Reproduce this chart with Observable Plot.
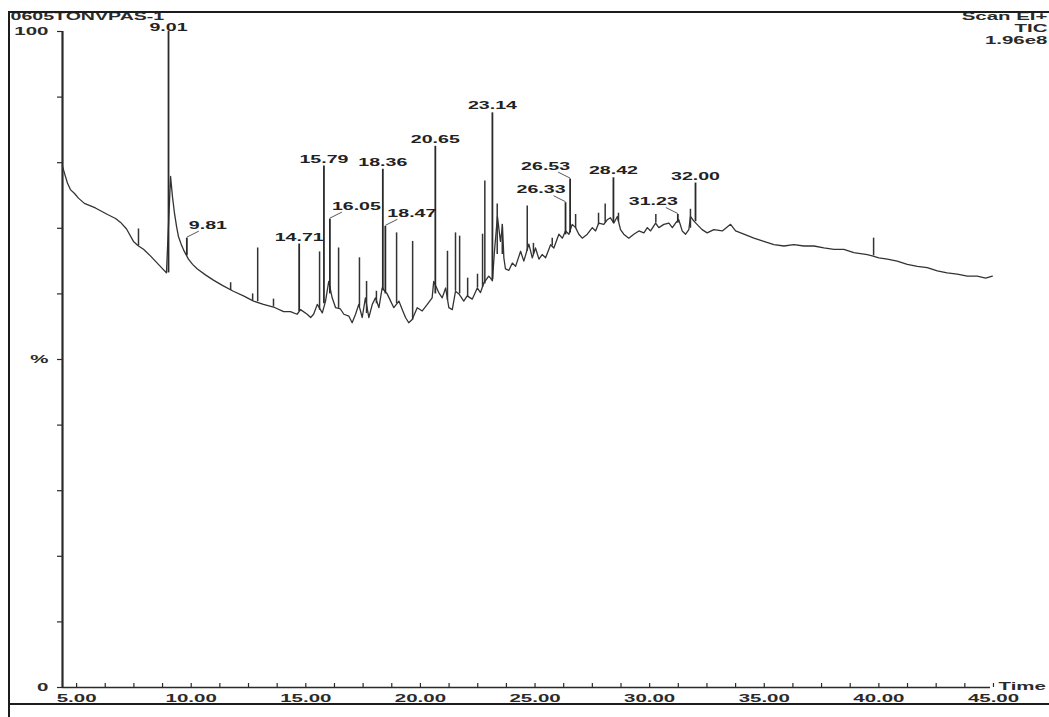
<!DOCTYPE html>
<html>
<head>
<meta charset="utf-8">
<script src="https://cdn.jsdelivr.net/npm/d3@7"></script>
<script src="https://cdn.jsdelivr.net/npm/@observablehq/plot@0.6"></script>
<style>
  html, body { margin: 0; padding: 0; background: #fff; }
  #chart svg { display: block; }
</style>
</head>
<body>
<div id="chart"></div>
<script>
// Total ion chromatogram: retention time (min) against relative abundance (%).

// Run header
const sampleName = "0605TONVPAS-1";
const scanInfo = ["Scan EI+", "TIC", "1.96e8"];

// Baseline trace of the chromatogram (time in minutes, abundance in %)
const baseTime = [4.38, 4.47, 4.60, 4.73, 4.91, 5.08, 5.34, 5.82, 6.35, 6.70, 6.92, 7.18, 7.48, 7.70, 7.92, 8.22, 8.57, 8.92,
  9.10, 9.18, 9.27, 9.36, 9.44, 9.58, 9.71, 9.88, 10.06, 10.27, 10.62, 10.97, 11.36, 11.84, 12.28, 12.72, 13.15, 13.59,
  14.03, 14.33, 14.62, 14.77, 15.06, 15.21, 15.34, 15.50, 15.72, 15.86, 16.00, 16.15, 16.30, 16.51, 16.66, 16.88, 17.02,
  17.17, 17.31, 17.46, 17.60, 17.75, 17.90, 18.04, 18.19, 18.33, 18.55, 18.70, 18.84, 19.06, 19.21, 19.35, 19.49, 19.64,
  19.86, 20.08, 20.30, 20.51, 20.58, 20.80, 20.95, 21.10, 21.24, 21.39, 21.53, 21.68, 21.89, 22.04, 22.26, 22.48, 22.62,
  22.77, 22.98, 23.06, 23.14, 23.23, 23.36, 23.49, 23.58, 23.64, 23.71, 23.86, 24.01, 24.15, 24.37, 24.51, 24.73, 24.88,
  25.02, 25.17, 25.31, 25.46, 25.68, 25.82, 26.04, 26.19, 26.33, 26.48, 26.62, 26.77, 26.91, 27.06, 27.28, 27.50, 27.64,
  27.78, 28.00, 28.15, 28.29, 28.44, 28.59, 28.73, 28.87, 29.09, 29.31, 29.53, 29.75, 29.90, 30.04, 30.26, 30.40, 30.62,
  30.84, 30.99, 31.13, 31.27, 31.42, 31.57, 31.71, 31.78, 31.93, 32.15, 32.29, 32.51, 32.80, 33.17, 33.53, 33.75, 34.11,
  34.55, 34.98, 35.42, 35.86, 36.29, 36.73, 37.17, 37.60, 38.04, 38.47, 38.91, 39.49, 39.71, 40.00, 40.37, 40.80, 41.24,
  41.68, 42.11, 42.55, 42.98, 43.42, 43.86, 44.29, 44.66, 44.95];
const baseAbund = [79.5, 78.4, 76.9, 75.9, 75.3, 74.6, 73.8, 73.1, 72.1, 71.5, 70.9, 69.9, 68.0, 67.3, 66.8, 65.8, 64.5, 63.2,
  77.9, 74.9, 72.3, 70.3, 68.8, 67.4, 66.4, 65.3, 64.5, 63.8, 62.9, 62.1, 61.3, 60.4, 59.7, 58.9, 58.4, 58.0,
  57.3, 57.3, 56.9, 57.6, 56.9, 56.4, 56.9, 58.4, 57.1, 58.9, 61.9, 59.4, 57.9, 57.7, 56.9, 56.6, 55.6,
  56.9, 58.4, 56.4, 59.4, 56.4, 58.4, 59.4, 57.9, 60.9, 60.0, 58.9, 57.9, 58.9, 57.6, 56.4, 55.6, 56.1,
  57.9, 57.4, 58.4, 59.4, 61.9, 60.2, 59.4, 60.9, 57.9, 57.6, 60.4, 60.0, 58.9, 59.7, 59.2, 60.9, 60.2,
  61.7, 62.7, 62.4, 62.0, 66.5, 71.8, 68.0, 70.3, 65.5, 63.8, 63.6, 64.7, 64.2, 66.5, 65.0, 67.6, 65.5,
  67.0, 65.3, 66.0, 65.5, 67.5, 67.0, 69.1, 68.5, 69.6, 69.1, 70.6, 70.1, 69.1, 68.5, 69.1, 70.1, 69.6,
  70.8, 70.6, 71.3, 71.6, 70.8, 71.8, 69.8, 69.1, 68.5, 69.1, 69.6, 69.3, 70.1, 69.6, 70.8, 70.1, 70.6,
  70.8, 70.1, 70.8, 71.3, 69.6, 69.1, 69.8, 71.8, 71.1, 70.3, 69.8, 69.3, 69.8, 69.6, 70.6, 69.6, 69.1,
  68.5, 68.0, 67.5, 67.3, 67.5, 67.3, 67.3, 67.0, 66.8, 66.8, 66.3, 66.0, 65.8, 65.5, 65.3, 65.0, 64.5,
  64.2, 64.0, 63.5, 63.2, 63.0, 62.7, 62.7, 62.4, 62.7];

// Unlabelled narrow peaks: apex time, foot and apex abundance
const spikeTime = [7.70, 11.72, 12.68, 12.90, 13.59, 15.60, 16.43, 17.34, 17.65, 18.08, 18.96, 19.66, 21.18, 21.53, 21.71,
  22.06, 22.49, 22.71, 22.81, 23.35, 23.57, 24.66, 24.93, 25.75, 26.77, 27.77, 28.06, 28.64, 30.27, 31.78, 39.77];
const spikeBase = [67.3, 60.5, 59.0, 58.8, 58.0, 57.5, 57.8, 58.0, 57.0, 58.5, 58.5, 56.0, 59.0, 60.4, 60.0,
  59.5, 60.9, 61.0, 61.5, 66.0, 66.0, 66.5, 66.0, 67.3, 70.0, 70.5, 70.8, 71.0, 70.8, 70.0, 65.8];
const spikeTop = [69.9, 61.7, 60.0, 67.0, 59.2, 66.4, 67.0, 65.5, 61.9, 60.4, 69.3, 68.0, 66.5, 69.3, 68.8,
  62.4, 63.0, 69.1, 77.2, 73.7, 70.6, 73.4, 67.7, 68.5, 72.1, 72.3, 73.7, 72.3, 72.1, 72.9, 68.5];

// Labelled peaks (retention time labels) with foot and apex abundance
const peakLabels = ["9.01", "9.81", "14.71", "15.79", "16.05", "18.36", "18.47", "20.65", "23.14",
  "26.33", "26.53", "28.42", "31.23", "32.00"];
const peakBase = [63.2, 65.8, 57.3, 58.5, 60.0, 60.5, 60.0, 60.0, 62.2, 69.0, 69.3, 70.8, 70.8, 71.0];
const peakTop = [100, 68.5, 67.6, 79.5, 71.4, 79.0, 70.3, 82.5, 87.6, 73.9, 77.5, 77.7, 72.1, 76.9];

// Label placement: beside the peak with a short leader, or sitting on the apex
const calloutSide = {"9.81": "right", "16.05": "right", "18.47": "right",
  "26.33": "left", "26.53": "left", "31.23": "left", "9.01": "apex"};

// Axes
const xTicks = [5, 10, 15, 20, 25, 30, 35, 40, 45];
const xMinorTicks = [6.25, 7.5, 8.75, 11.25, 12.5, 13.75, 16.25, 17.5, 18.75, 21.25, 22.5, 23.75,
  26.25, 27.5, 28.75, 31.25, 32.5, 33.75, 36.25, 37.5, 38.75, 41.25, 42.5, 43.75];
const yTicks = [0, 10, 20, 30, 40, 50, 60, 70, 80, 90, 100];
const yTickLabels = {0: "0", 50: "%", 100: "100"};
const xAxisTitle = "Time";

// ---- layout ----
const W = 1049, H = 717;
const margin = {top: 31, right: 59, bottom: 30, left: 62};
const xDomain = [4.385, 44.87];
const ink = "#2a2a2a";
const textStretch = 1.78; // printout fonts are wide

const kx = (W - margin.left - margin.right) / (xDomain[1] - xDomain[0]); // px per minute
const ky = (H - margin.top - margin.bottom) / 100;                         // px per %

const baseline = baseTime.map((t, i) => ({time: t, abundance: baseAbund[i]}));
const spikes = spikeTime.map((t, i) => ({time: t, base: spikeBase[i], top: spikeTop[i]}));
const peaks = peakLabels.map((label, i) => ({
  label, time: +label, base: peakBase[i], top: peakTop[i], side: calloutSide[label] || "center"
}));
const leaders = peaks.filter(d => d.side === "left" || d.side === "right").map(d => {
  const s = d.side === "right" ? 1 : -1;
  return {x1: d.time, y1: d.top + 1 / ky, x2: d.time + s * 12 / kx, y2: d.top + 7 / ky};
});
const labelText = {fontSize: 11, lineAnchor: "middle", fill: "#222"};

const chart = Plot.plot({
  width: W,
  height: H,
  marginTop: margin.top,
  marginRight: margin.right,
  marginBottom: margin.bottom,
  marginLeft: margin.left,
  style: {
    background: "#fff",
    color: ink,
    fontFamily: "'Liberation Sans', Arial, sans-serif",
    fontSize: "11.5px",
    fontWeight: "bold"
  },
  x: {domain: xDomain},
  y: {domain: [0, 100]},
  marks: [
    // axis lines
    Plot.ruleY([0], {stroke: ink, strokeWidth: 1.6}),
    Plot.ruleX([xDomain[0]], {stroke: ink, strokeWidth: 2.2}),
    // x axis: labels and small upward ticks
    Plot.axisX({ticks: xTicks, tickSize: 0, tickPadding: 6, tickFormat: d => d.toFixed(2), fontSize: 11.5}),
    Plot.axisX({ticks: xTicks.concat(xMinorTicks), tickSize: 4, dy: -4, tickFormat: () => "", strokeWidth: 1.2}),
    // y axis
    Plot.axisY({ticks: yTicks, tickSize: 5, tickFormat: () => "", strokeWidth: 1.2}),
    Plot.axisY({ticks: [0, 50, 100], tickSize: 5, tickPadding: 9, tickFormat: d => yTickLabels[d], fontSize: 11.5}),
    Plot.text([xAxisTitle], {frameAnchor: "bottom-right", dx: 8, dy: -1, textAnchor: "start", lineAnchor: "middle", fontSize: 11.5}),
    // chromatogram
    Plot.line(baseline, {x: "time", y: "abundance", stroke: "#333", strokeWidth: 1.3}),
    Plot.ruleX(spikes, {x: "time", y1: "base", y2: "top", stroke: "#333", strokeWidth: 1.5}),
    Plot.ruleX(peaks, {x: "time", y1: "base", y2: "top", stroke: "#2a2a2a", strokeWidth: 1.8}),
    // peak labels
    Plot.link(leaders, {x1: "x1", y1: "y1", x2: "x2", y2: "y2", stroke: "#444", strokeWidth: 0.9}),
    Plot.text(peaks.filter(d => d.side === "center"), {x: "time", y: "top", text: "label", dy: -7, textAnchor: "middle", ...labelText}),
    Plot.text(peaks.filter(d => d.side === "apex"), {x: "time", y: "top", text: "label", dy: -4, textAnchor: "middle", ...labelText}),
    Plot.text(peaks.filter(d => d.side === "right"), {x: "time", y: "top", text: "label", dx: 2, dy: -13, textAnchor: "start", ...labelText}),
    Plot.text(peaks.filter(d => d.side === "left"), {x: "time", y: "top", text: "label", dx: 0, dy: -13, textAnchor: "end", ...labelText}),
    // run header
    Plot.text([sampleName], {frameAnchor: "top-left", dx: -52, dy: -15, textAnchor: "start", lineAnchor: "middle", fontSize: 11}),
    Plot.text([scanInfo[0]], {frameAnchor: "top-right", dx: 57, dy: -15, textAnchor: "end", lineAnchor: "middle", fontSize: 11.5}),
    Plot.text([scanInfo[1]], {frameAnchor: "top-right", dx: 57, dy: -3.5, textAnchor: "end", lineAnchor: "middle", fontSize: 11.5}),
    Plot.text([scanInfo[2]], {frameAnchor: "top-right", dx: 57, dy: 9, textAnchor: "end", lineAnchor: "middle", fontSize: 11.5})
  ]
});

// widen every label about its own anchor point
chart.querySelectorAll("text").forEach(t => {
  let tr = t.getAttribute("transform") || "";
  const x = t.getAttribute("x");
  if (x !== null) { tr += ` translate(${x},0)`; t.removeAttribute("x"); }
  t.setAttribute("transform", `${tr} scale(${textStretch},1)`);
});

// printout border
const border = d3.select(chart).append("g")
  .attr("stroke", "#1c1c1c").attr("stroke-width", 2).attr("fill", "none");
border.append("path").attr("d", `M${W},12H9V${H}`);
border.append("path").attr("d", `M9,704H${W}`);

document.getElementById("chart").append(chart);
</script>
</body>
</html>
